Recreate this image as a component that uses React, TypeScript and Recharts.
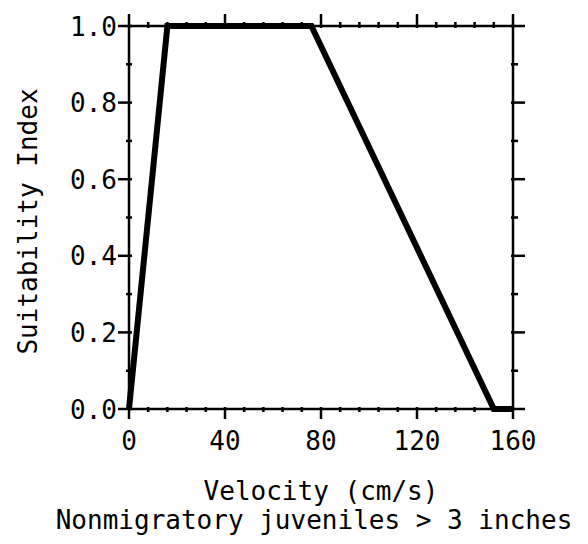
import { Line, LineChart, XAxis, YAxis } from "recharts";

// habitat suitability curve
const velocity = [0, 16, 76, 152, 160];
const suitability = [0, 1, 1, 0, 0];

const xTicks = [0, 8, 16, 24, 32, 40, 48, 56, 64, 72, 80, 88, 96, 104, 112, 120, 128, 136, 144, 152, 160];
const xLabels = [0, 40, 80, 120, 160];
const yTicks = [0, 0.1, 0.2, 0.3, 0.4, 0.5, 0.6, 0.7, 0.8, 0.9, 1.0];
const yLabels = [0, 0.2, 0.4, 0.6, 0.8, 1.0];

const xTitle = "Velocity (cm/s)";
const subTitle = "Nonmigratory juveniles > 3 inches";
const yTitle = "Suitability Index";

const FONT = "DejaVu Sans Mono, Liberation Mono, monospace";
const INK = "#000";

type TickProps = { x: number; y: number; payload: { value: number } };

function BottomTick({ x, y, payload }: TickProps) {
  const major = xLabels.includes(payload.value);
  return (
    <g>
      <line x1={x} y1={y - 2} x2={x} y2={major ? y + 10 : y + 3} stroke={INK} strokeWidth={2.5} />
      {major ? (
        <text x={x} y={y + 41} textAnchor="middle" fontFamily={FONT} fontSize={26} fill={INK}>
          {payload.value}
        </text>
      ) : null}
    </g>
  );
}

function TopTick({ x, y, payload }: TickProps) {
  const major = xLabels.includes(payload.value);
  return <line x1={x} y1={y + 2} x2={x} y2={major ? y - 12 : y - 4} stroke={INK} strokeWidth={2.5} />;
}

function LeftTick({ x, y, payload }: TickProps) {
  const major = yLabels.includes(payload.value);
  return (
    <g>
      <line x1={major ? x - 11 : x - 3} y1={y} x2={x + 3} y2={y} stroke={INK} strokeWidth={2.5} />
      {major ? (
        <text x={x - 12} y={y + 9.5} textAnchor="end" fontFamily={FONT} fontSize={26} fill={INK}>
          {payload.value.toFixed(1)}
        </text>
      ) : null}
    </g>
  );
}

function RightTick({ x, y, payload }: TickProps) {
  const major = yLabels.includes(payload.value);
  return <line x1={x - 2} y1={y} x2={major ? x + 12 : x + 5} y2={y} stroke={INK} strokeWidth={2.5} />;
}

function XTitles(props: any) {
  const vb = props.viewBox;
  const cx = vb.x + vb.width / 2;
  return (
    <g fontFamily={FONT} fontSize={26} fill={INK}>
      <text x={cx} y={vb.y + 91} textAnchor="middle">
        {xTitle}
      </text>
      <text x={cx - 7} y={vb.y + 120} textAnchor="middle">
        {subTitle}
      </text>
    </g>
  );
}

function YTitle(props: any) {
  const vb = props.viewBox;
  const tx = vb.x + vb.width - 92;
  const ty = vb.y + vb.height / 2 + 4;
  return (
    <text
      x={tx}
      y={ty}
      transform={`rotate(-90, ${tx}, ${ty})`}
      textAnchor="middle"
      fontFamily={FONT}
      fontSize={26}
      fill={INK}
    >
      {yTitle}
    </text>
  );
}

export default function App() {
  const data = velocity.map((v, i) => ({ v, si: suitability[i] }));
  const axisLine = { stroke: INK, strokeWidth: 2.5 };

  return (
    <div style={{ position: "absolute", left: 0, top: 0, width: 588, height: 544, background: "#fff" }}>
      <LineChart width={588} height={544} data={data} margin={{ top: 25, right: 74, bottom: 134, left: 128 }}>
        <XAxis
          xAxisId="bottom"
          dataKey="v"
          type="number"
          domain={[0, 160]}
          ticks={xTicks}
          interval={0}
          height={1}
          tickSize={0}
          tickMargin={0}
          tickLine={false}
          axisLine={axisLine}
          tick={BottomTick}
          label={XTitles}
        />
        <XAxis
          xAxisId="top"
          orientation="top"
          dataKey="v"
          type="number"
          domain={[0, 160]}
          ticks={xTicks}
          interval={0}
          height={1}
          tickSize={0}
          tickMargin={0}
          tickLine={false}
          axisLine={axisLine}
          tick={TopTick}
        />
        <YAxis
          yAxisId="left"
          type="number"
          domain={[0, 1]}
          ticks={yTicks}
          interval={0}
          width={1}
          tickSize={0}
          tickMargin={0}
          tickLine={false}
          axisLine={axisLine}
          tick={LeftTick}
          label={YTitle}
        />
        <YAxis
          yAxisId="right"
          orientation="right"
          type="number"
          domain={[0, 1]}
          ticks={yTicks}
          interval={0}
          width={1}
          tickSize={0}
          tickMargin={0}
          tickLine={false}
          axisLine={axisLine}
          tick={RightTick}
        />
        <Line
          xAxisId="top"
          yAxisId="right"
          dataKey="si"
          stroke="none"
          dot={false}
          activeDot={false}
          isAnimationActive={false}
        />
        <Line
          xAxisId="bottom"
          yAxisId="left"
          type="linear"
          dataKey="si"
          stroke={INK}
          strokeWidth={6}
          dot={false}
          activeDot={false}
          isAnimationActive={false}
        />
      </LineChart>
    </div>
  );
}
